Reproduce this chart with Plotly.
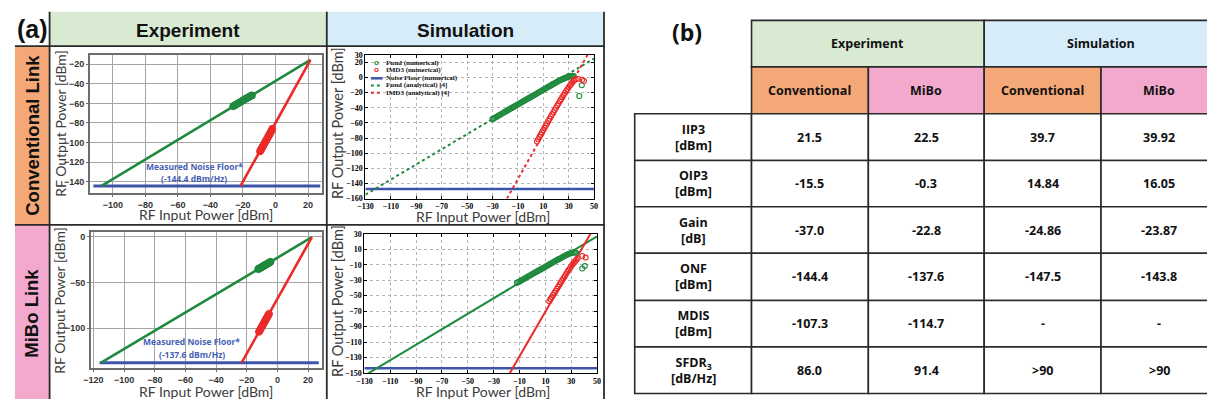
import plotly.graph_objects as go

W, H = 1207, 404

def PX(x):
    return x / W

def PY(y):
    return 1 - y / H

# ---------------- data : (a) Experiment, Conventional link ----------------
exp_conv_fund_fit_x = [-107.0, 21.5]
exp_conv_fund_fit_y = [-144.4, -15.5]
exp_conv_imd3_fit_x = [-21.5, 21.5]
exp_conv_imd3_fit_y = [-144.4, -15.5]
exp_conv_noise_x = [-112.0, 27.5]
exp_conv_noise_y = [-144.4, -144.4]
exp_conv_fund_meas_x = [-26.0, -25.0, -24.0, -23.0, -22.0, -21.0, -20.0, -19.0, -18.0, -17.0, -16.0, -15.0, -14.5]
exp_conv_fund_meas_y = [-62.8, -61.8, -60.8, -59.9, -58.9, -57.9, -56.9, -55.9, -54.9, -54.0, -53.0, -52.2, -51.8]
exp_conv_imd3_meas_x = [-9.5, -9.0, -8.5, -8.0, -7.5, -7.0, -6.5, -6.0, -5.5, -5.0, -4.5, -4.0, -3.5, -3.0, -2.5, -2.0]
exp_conv_imd3_meas_y = [-109.0, -107.5, -106.0, -104.5, -103.0, -101.5, -100.0, -98.5, -97.0, -95.5, -94.0, -92.5, -91.0, -89.5, -88.0, -86.0]

# ---------------- data : (a) Experiment, MiBo link ----------------
exp_mibo_fund_fit_x = [-115.0, 22.5]
exp_mibo_fund_fit_y = [-137.6, -0.3]
exp_mibo_imd3_fit_x = [-23.3, 22.5]
exp_mibo_imd3_fit_y = [-137.6, -0.3]
exp_mibo_noise_x = [-116.0, 27.0]
exp_mibo_noise_y = [-137.6, -137.6]
exp_mibo_fund_meas_x = [-12.5, -12.0, -11.5, -11.0, -10.5, -10.0, -9.5, -9.0, -8.5, -8.0, -7.5, -7.0, -6.5, -6.0, -5.5, -5.0, -4.5]
exp_mibo_fund_meas_y = [-35.2, -34.7, -34.3, -33.8, -33.3, -32.8, -32.3, -31.8, -31.3, -30.8, -30.3, -29.8, -29.3, -28.8, -28.3, -27.8, -27.3]
exp_mibo_imd3_meas_x = [-12.0, -11.5, -11.0, -10.5, -10.0, -9.5, -9.0, -8.5, -8.0, -7.5, -7.0, -6.5, -6.0, -5.5]
exp_mibo_imd3_meas_y = [-103.8, -102.3, -100.8, -99.3, -97.8, -96.3, -94.8, -93.3, -91.8, -90.3, -88.8, -87.3, -85.8, -84.3]

# ---------------- data : (a) Simulation, Conventional link ----------------
sim_conv_fund_ana_x = [-130.0, 50.0]
sim_conv_fund_ana_y = [-154.86, 25.14]
sim_conv_imd3_ana_x = [-18.6, 44.8]
sim_conv_imd3_ana_y = [-160.0, 30.0]
sim_conv_noise_x = [-130.0, 50.0]
sim_conv_noise_y = [-147.5, -147.5]
sim_conv_fund_num_x = [-30, -29, -28, -27, -26, -25, -24, -23, -22, -21, -20, -19, -18, -17, -16, -15,
                       -14, -13, -12, -11, -10, -9, -8, -7, -6, -5, -4, -3, -2, -1, 0, 1, 2, 3, 4, 5,
                       6, 7, 8, 9, 10, 11, 12, 13, 14, 15, 16, 17, 18, 19, 20, 21, 22, 23, 24, 25, 26,
                       27, 28, 29, 30, 31, 32, 33, 34, 38.3, 40.3]
sim_conv_fund_num_y = [-55.0, -54.0, -53.1, -52.1, -51.1, -50.2, -49.2, -48.2, -47.2, -46.3, -45.3, -44.3,
                       -43.4, -42.4, -41.4, -40.5, -39.5, -38.5, -37.5, -36.6, -35.6, -34.6, -33.7, -32.7,
                       -31.7, -30.8, -29.8, -28.8, -27.8, -26.9, -25.9, -24.9, -24.0, -23.0, -22.0, -21.1,
                       -20.1, -19.1, -18.1, -17.2, -16.2, -15.2, -14.3, -13.3, -12.3, -11.4, -10.4, -9.4,
                       -8.4, -7.5, -6.5, -5.6, -4.7, -3.8, -3.0, -2.2, -1.5, -0.8, -0.1, 0.5, 1.1, 1.6,
                       2.0, 2.2, 1.8, -24.5, -10.2]
sim_conv_imd3_num_x = [5, 6, 7, 8, 9, 10, 11, 12, 13, 14, 15, 16, 17, 18, 19, 20, 21, 22, 23, 24, 25, 26,
                       27, 28, 29, 30, 31, 32, 33, 34, 35.5, 37.5, 40.6, 42.0]
sim_conv_imd3_num_y = [-84.5, -81.5, -78.5, -75.5, -72.5, -69.5, -66.5, -63.5, -60.5, -57.5, -54.5, -51.6,
                       -48.7, -45.8, -42.9, -40.0, -37.1, -34.3, -31.5, -28.7, -25.9, -23.2, -20.5, -17.9,
                       -15.4, -13.0, -10.6, -8.3, -6.1, -4.1, -2.5, -1.6, -2.9, -4.6]

# ---------------- data : (a) Simulation, MiBo link ----------------
sim_mibo_fund_fit_x = [-130.0, 50.0]
sim_mibo_fund_fit_y = [-153.3, 26.7]
sim_mibo_imd3_fit_x = [-17.5, 44.9]
sim_mibo_imd3_fit_y = [-150.0, 30.0]
sim_mibo_noise_x = [-130.0, 50.0]
sim_mibo_noise_y = [-143.8, -143.8]
sim_mibo_fund_num_x = [-12, -11, -10, -9, -8, -7, -6, -5, -4, -3, -2, -1, 0, 1, 2, 3, 4, 5, 6, 7, 8, 9,
                       10, 11, 12, 13, 14, 15, 16, 17, 18, 19, 20, 21, 22, 23, 24, 25, 26, 27, 28, 29,
                       30, 31, 32, 33, 34, 38.5, 40.5]
sim_mibo_fund_num_y = [-33.5, -32.5, -31.6, -30.6, -29.7, -28.7, -27.8, -26.8, -25.9, -24.9, -24.0, -23.0,
                       -22.1, -21.1, -20.2, -19.2, -18.3, -17.3, -16.4, -15.4, -14.5, -13.5, -12.6, -11.6,
                       -10.7, -9.7, -8.8, -7.8, -6.9, -5.9, -5.0, -4.0, -3.1, -2.2, -1.3, -0.4, 0.5, 1.4,
                       2.2, 3.0, 3.8, 4.5, 5.1, 5.6, 5.9, 5.8, 5.2, -14.8, -11.8]
sim_mibo_imd3_num_x = [13, 14, 15, 16, 17, 18, 19, 20, 21, 22, 23, 24, 25, 26, 27, 28, 29, 30, 31, 32, 33,
                       34, 35, 38.6, 41.1]
sim_mibo_imd3_num_y = [-57.2, -54.5, -51.8, -49.1, -46.4, -43.7, -41.0, -38.3, -35.6, -32.9, -30.2, -27.5,
                       -24.8, -22.1, -19.5, -17.0, -14.5, -12.1, -9.8, -7.6, -5.5, -3.6, -1.8, 1.2, -0.8]

# tick labels
exp_conv_xticks = [-100, -80, -60, -40, -20, 0, 20]
exp_conv_yticks = [-140, -120, -100, -80, -60, -40, -20]
exp_mibo_xticks = [-120, -100, -80, -60, -40, -20, 0, 20]
exp_mibo_yticks = [-100, -50, 0]
sim_xticks = [-130, -110, -90, -70, -50, -30, -10, 10, 30, 50]
sim_conv_yticks = [30, 20, 0, -20, -40, -60, -80, -100, -120, -140, -160]
sim_mibo_yticks = [30, 10, -10, -30, -50, -70, -90, -110, -130, -150]

# ---------------- data : (b) table ----------------
table_groups = ["Experiment", "Simulation"]
table_subcols = ["Conventional", "MiBo", "Conventional", "MiBo"]
table_row_labels = ["IIP3<br>[dBm]", "OIP3<br>[dBm]", "Gain<br>[dB]", "ONF<br>[dBm]", "MDIS<br>[dBm]",
                    "SFDR<sub>3</sub><br>[dB/Hz]"]
exp_conv_vals = ["21.5", "-15.5", "-37.0", "-144.4", "-107.3", "86.0"]
exp_mibo_vals = ["22.5", "-0.3", "-22.8", "-137.6", "-114.7", "91.4"]
sim_conv_vals = ["39.7", "14.84", "-24.86", "-147.5", "-", ">90"]
sim_mibo_vals = ["39.92", "16.05", "-23.87", "-143.8", "-", ">90"]

# ---------------- styles ----------------
GREEN = "#1f8a3e"
RED = "#ec2a2a"
BLUE = "#3c55aa"
C_GREEN_BG = "#d9ead3"
C_BLUE_BG = "#d6ecf8"
C_ORANGE = "#f5a877"
C_PINK = "#f3a9cd"
BORDER = "#2a2a2a"

fig = go.Figure()

def line(x, y, color, ax, width=2.6, dash="solid"):
    fig.add_trace(go.Scatter(x=x, y=y, mode="lines", line=dict(color=color, width=width, dash=dash),
                             xaxis="x" + ax, yaxis="y" + ax, showlegend=False, hoverinfo="skip"))

def pts(x, y, color, ax, size=7, filled=True):
    if filled:
        mk = dict(symbol="circle", size=size, color=color, line=dict(color=color, width=1))
    else:
        mk = dict(symbol="circle-open", size=size, color=color, line=dict(color=color, width=1.1))
    fig.add_trace(go.Scatter(x=x, y=y, mode="markers", marker=mk, xaxis="x" + ax, yaxis="y" + ax,
                             showlegend=False, hoverinfo="skip"))

# experiment conventional (axis 1)
line(exp_conv_noise_x, exp_conv_noise_y, BLUE, "", width=3)
line(exp_conv_fund_fit_x, exp_conv_fund_fit_y, GREEN, "")
line(exp_conv_imd3_fit_x, exp_conv_imd3_fit_y, RED, "")
pts(exp_conv_fund_meas_x, exp_conv_fund_meas_y, GREEN, "", size=7)
pts(exp_conv_imd3_meas_x, exp_conv_imd3_meas_y, RED, "", size=7)

# experiment mibo (axis 2)
line(exp_mibo_noise_x, exp_mibo_noise_y, BLUE, "2", width=3)
line(exp_mibo_fund_fit_x, exp_mibo_fund_fit_y, GREEN, "2")
line(exp_mibo_imd3_fit_x, exp_mibo_imd3_fit_y, RED, "2")
pts(exp_mibo_fund_meas_x, exp_mibo_fund_meas_y, GREEN, "2", size=7)
pts(exp_mibo_imd3_meas_x, exp_mibo_imd3_meas_y, RED, "2", size=7)

# simulation conventional (axis 3)
line(sim_conv_noise_x, sim_conv_noise_y, BLUE, "3", width=2.5)
line(sim_conv_fund_ana_x, sim_conv_fund_ana_y, GREEN, "3", width=2, dash="dot")
line(sim_conv_imd3_ana_x, sim_conv_imd3_ana_y, RED, "3", width=2, dash="dot")
pts(sim_conv_fund_num_x, sim_conv_fund_num_y, GREEN, "3", size=5, filled=False)
pts(sim_conv_imd3_num_x, sim_conv_imd3_num_y, RED, "3", size=5, filled=False)

# simulation mibo (axis 4)
line(sim_mibo_noise_x, sim_mibo_noise_y, BLUE, "4", width=2.5)
line(sim_mibo_fund_fit_x, sim_mibo_fund_fit_y, GREEN, "4", width=2)
line(sim_mibo_imd3_fit_x, sim_mibo_imd3_fit_y, RED, "4", width=2)
pts(sim_mibo_fund_num_x, sim_mibo_fund_num_y, GREEN, "4", size=5, filled=False)
pts(sim_mibo_imd3_num_x, sim_mibo_imd3_num_y, RED, "4", size=5, filled=False)

exp_tick_font = dict(family="Arial", size=9, color="#333333", weight="bold")
sim_tick_font = dict(family="Liberation Serif", size=8, color="#000000", weight="bold")

def exp_axis(domain, rng, ticks, anchor):
    return dict(domain=domain, range=rng, tickvals=ticks, anchor=anchor, showgrid=True,
                gridcolor="#a4a4a4", gridwidth=1.3, showline=True, mirror=True, linecolor="#6e6e6e",
                linewidth=2, ticks="outside", ticklen=2, tickcolor="#6e6e6e", zeroline=False,
                tickfont=exp_tick_font, fixedrange=True)

def sim_axis(domain, rng, ticks, anchor):
    return dict(domain=domain, range=rng, tickvals=ticks, anchor=anchor, showgrid=True,
                gridcolor="#b5b5b5", gridwidth=1, griddash="dot", showline=True, mirror="ticks",
                linecolor="#000000", linewidth=1, ticks="inside", ticklen=3, tickcolor="#000000",
                zeroline=False, tickfont=sim_tick_font, fixedrange=True)

layout = dict(
    width=W, height=H, margin=dict(l=0, r=0, t=0, b=0),
    paper_bgcolor="white", plot_bgcolor="white", showlegend=False,
    xaxis=exp_axis([PX(83), PX(317)], [-114, 28.5], exp_conv_xticks, "y"),
    yaxis=exp_axis([PY(193), PY(52)], [-151.3, -10.3], exp_conv_yticks, "x"),
    xaxis2=exp_axis([PX(84), PX(317)], [-121.5, 29], exp_mibo_xticks, "y2"),
    yaxis2=exp_axis([PY(372.5), PY(233)], [-143.7, 5.6], exp_mibo_yticks, "x2"),
    xaxis3=sim_axis([PX(361), PX(592)], [-130, 50], sim_xticks, "y3"),
    yaxis3=sim_axis([PY(199), PY(52)], [-160, 30], sim_conv_yticks, "x3"),
    xaxis4=sim_axis([PX(360), PX(595)], [-130, 50], sim_xticks, "y4"),
    yaxis4=sim_axis([PY(377.5), PY(235)], [-150, 30], sim_mibo_yticks, "x4"),
)
fig.update_layout(**layout)

shapes = []
annotations = []

def rect(x0, y0, x1, y1, fill, line_w=0, line_c=BORDER, layer="below"):
    shapes.append(dict(type="rect", xref="paper", yref="paper", x0=PX(x0), x1=PX(x1), y0=PY(y1), y1=PY(y0),
                       fillcolor=fill, line=dict(width=line_w, color=line_c), layer=layer))

def seg(x0, y0, x1, y1, w=1.8, c=BORDER, dash="solid"):
    shapes.append(dict(type="line", xref="paper", yref="paper", x0=PX(x0), x1=PX(x1), y0=PY(y0), y1=PY(y1),
                       line=dict(width=w, color=c, dash=dash), layer="above"))

def text(x, y, s, size, family="Arial", color="#111111", bold=True, angle=0, xanchor="center"):
    annotations.append(dict(xref="paper", yref="paper", x=PX(x), y=PY(y), text=s, showarrow=False,
                            textangle=angle, xanchor=xanchor, yanchor="middle",
                            font=dict(family=family, size=size, color=color,
                                      weight="bold" if bold else "normal")))

# ---- panel (a) frame ----
rect(42, 8, 322, 43, C_GREEN_BG)
rect(322, 8, 602, 43, C_BLUE_BG)
rect(7, 43, 42, 226, C_ORANGE)
rect(7, 226, 42, 404, C_PINK)
seg(42, 8, 42, 404)
seg(322, 8, 322, 404)
seg(602, 8, 602, 404)
seg(7, 43, 602, 43)
seg(7, 226, 602, 226)

text(25, 26, "(a)", 25)
text(182, 27, table_groups[0], 19)
text(462, 27, table_groups[1], 19)
text(24, 134, "Conventional Link", 18.5, angle=-90)
text(24, 316, "MiBo Link", 18.5, angle=-90)

# axis titles
TF = "Lato"
TC = "#3c3c3c"
text(53, 122, "RF Output Power [dBm]", 14, family=TF, color=TC, bold=False, angle=-90)
text(200, 215, "RF Input Power [dBm]", 14, family=TF, color=TC, bold=False)
text(52, 303, "RF Output Power [dBm]", 14, family=TF, color=TC, bold=False, angle=-90)
text(200, 396.5, "RF Input Power [dBm]", 14, family=TF, color=TC, bold=False)
text(333, 122, "RF Output Power [dBm]", 14.5, family=TF, color=TC, bold=False, angle=-90)
text(480, 217.5, "RF Input Power [dBm]", 14, family=TF, color=TC, bold=False)
text(333, 304, "RF Output Power [dBm]", 14.5, family=TF, color=TC, bold=False, angle=-90)
text(480, 396.5, "RF Input Power [dBm]", 14, family=TF, color=TC, bold=False)

# noise floor notes (data coordinates)
NB = "#4660b5"
for ax, xv, y1, y2, val in [("", -50, -124, -136.5, "(-144.4 dBm/Hz)"), ("2", -56, -115, -128.2, "(-137.6 dBm/Hz)")]:
    for yy, s in [(y1, "Measured Noise Floor*"), (y2, val)]:
        annotations.append(dict(xref="x" + ax, yref="y" + ax, x=xv, y=yy, text="<b>" + s + "</b>",
                                showarrow=False,
                                font=dict(family="Open Sans", size=8.5, color=NB, weight="bold")))

# legend of top simulation plot
LEG_F = "Liberation Serif"
leg_items = [("Fund (numerical)", GREEN, "circle"), ("IMD3 (numerical)", RED, "circle"),
             ("Noise Floor (numerical)", BLUE, "solid"), ("Fund (analytical) [4]", GREEN, "dot"),
             ("IMD3 (analytical) [4]", RED, "dot")]
leg_y = [60, 67.7, 76, 83.3, 90.7]
for (lab, col, kind), yy in zip(leg_items, leg_y):
    if kind == "circle":
        text(372, yy - 0.5, "o", 8, family="Arial", color=col, bold=True)
    elif kind == "solid":
        seg(366.5, yy, 378.5, yy, w=2.5, c=col)
    else:
        seg(366.5, yy, 378.5, yy, w=2, c=col, dash="dot")
    text(380, yy, lab, 7, family=LEG_F, color="#111111", bold=True, xanchor="left")

# ---- table (b) ----
col_edges = [633, 751, 869, 986, 1104, 1222]
row_edges = [16.7, 64.3, 112.3, 160, 207.3, 255, 303.3, 350.7, 398.3]
TBF = "Open Sans"
TBS = 12.5
text(686, 29, "(b)", 23, family=TBF)

group_fill = [C_GREEN_BG, C_BLUE_BG]
for g in range(2):
    x0, x1 = col_edges[1 + 2 * g], col_edges[3 + 2 * g]
    rect(x0, row_edges[0], x1, row_edges[1], group_fill[g], line_w=1.6, layer="below")
    text((x0 + x1) / 2, (row_edges[0] + row_edges[1]) / 2, table_groups[g], TBS, family=TBF)

sub_fill = [C_ORANGE, C_PINK, C_ORANGE, C_PINK]
for c in range(4):
    x0, x1 = col_edges[1 + c], col_edges[2 + c]
    rect(x0, row_edges[1], x1, row_edges[2], sub_fill[c], line_w=1.6, layer="below")
    text((x0 + x1) / 2, (row_edges[1] + row_edges[2]) / 2, table_subcols[c], TBS, family=TBF)

cols_vals = [exp_conv_vals, exp_mibo_vals, sim_conv_vals, sim_mibo_vals]
for r in range(len(table_row_labels)):
    y0, y1 = row_edges[2 + r], row_edges[3 + r]
    ym = (y0 + y1) / 2
    rect(col_edges[0], y0, col_edges[1], y1, "white", line_w=1.6, layer="below")
    text((col_edges[0] + col_edges[1]) / 2, ym, table_row_labels[r], TBS, family=TBF)
    for c in range(4):
        x0, x1 = col_edges[1 + c], col_edges[2 + c]
        rect(x0, y0, x1, y1, "white", line_w=1.6, layer="below")
        text((x0 + x1) / 2, ym, cols_vals[c][r], TBS, family=TBF)

fig.update_layout(shapes=shapes, annotations=annotations)
fig.write_html("out.html", config={"displayModeBar": False},
               post_script="document.body.style.margin='0px';document.body.style.overflow='hidden';")
